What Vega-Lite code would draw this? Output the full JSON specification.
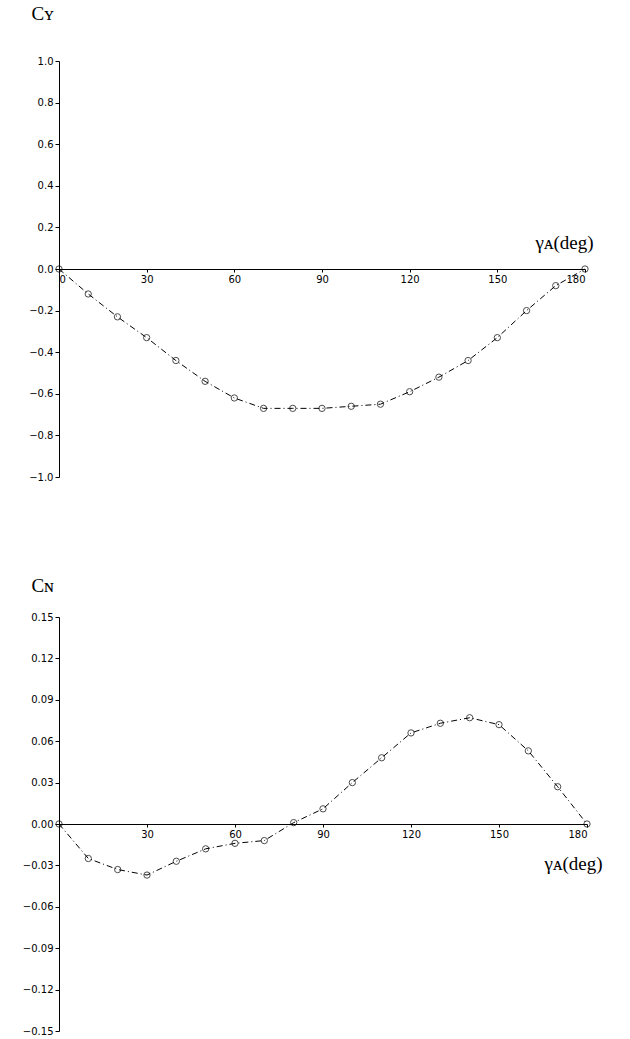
{
  "$schema": "https://vega.github.io/schema/vega-lite/v6.json",
  "padding": {"left": 22, "top": 4, "right": 0, "bottom": 0},
  "autosize": {"type": "pad"},
  "background": "white",
  "config": {
    "view": {"stroke": null},
    "axis": {"grid": false, "domainColor": "black", "tickColor": "black", "labelColor": "black", "labelFont": "DejaVu Sans", "labelFontSize": 10, "titleFont": "Liberation Serif", "titleFontSize": 19, "titleFontWeight": "normal", "titleColor": "black"}
  },
  "spacing": 94,
  "vconcat": [
    {
      "width": 526,
      "height": 416,
      "data": {"values": [
        {"a": 0, "c": 0}, {"a": 10, "c": -0.12}, {"a": 20, "c": -0.23}, {"a": 30, "c": -0.33},
        {"a": 40, "c": -0.44}, {"a": 50, "c": -0.54}, {"a": 60, "c": -0.62}, {"a": 70, "c": -0.67},
        {"a": 80, "c": -0.67}, {"a": 90, "c": -0.67}, {"a": 100, "c": -0.66}, {"a": 110, "c": -0.65},
        {"a": 120, "c": -0.59}, {"a": 130, "c": -0.52}, {"a": 140, "c": -0.44}, {"a": 150, "c": -0.33},
        {"a": 160, "c": -0.20}, {"a": 170, "c": -0.08}, {"a": 180, "c": 0}
      ]},
      "encoding": {
        "x": {"field": "a", "type": "quantitative", "scale": {"domain": [0, 180], "nice": false},
          "axis": {"values": [0, 30, 60, 90, 120, 150, 180], "offset": -208, "title": "γᴀ(deg)", "titleAlign": "left", "titleX": 476, "titleY": -36, "tickSize": 3}},
        "y": {"field": "c", "type": "quantitative", "scale": {"domain": [-1, 1], "nice": false},
          "axis": {"values": [-1, -0.8, -0.6, -0.4, -0.2, 0, 0.2, 0.4, 0.6, 0.8, 1], "format": ".1f", "title": "Cʏ", "titleAngle": 0, "titleX": -28, "titleY": -38, "titleAlign": "left", "tickSize": 4}}
      },
      "layer": [
        {"mark": {"type": "line", "color": "black", "strokeWidth": 1, "strokeDash": [6, 3, 1, 3]}},
        {"mark": {"type": "point", "shape": "circle", "filled": false, "color": "black", "size": 40, "strokeWidth": 1}}
      ]
    },
    {
      "width": 528,
      "height": 414,
      "data": {"values": [
        {"a": 0, "c": 0}, {"a": 10, "c": -0.025}, {"a": 20, "c": -0.033}, {"a": 30, "c": -0.037},
        {"a": 40, "c": -0.027}, {"a": 50, "c": -0.018}, {"a": 60, "c": -0.014}, {"a": 70, "c": -0.012},
        {"a": 80, "c": 0.001}, {"a": 90, "c": 0.011}, {"a": 100, "c": 0.030}, {"a": 110, "c": 0.048},
        {"a": 120, "c": 0.066}, {"a": 130, "c": 0.073}, {"a": 140, "c": 0.077}, {"a": 150, "c": 0.072},
        {"a": 160, "c": 0.053}, {"a": 170, "c": 0.027}, {"a": 180, "c": 0}
      ]},
      "encoding": {
        "x": {"field": "a", "type": "quantitative", "scale": {"domain": [0, 180], "nice": false},
          "axis": {"values": [0, 30, 60, 90, 120, 150, 180], "labelExpr": "datum.value == 0 ? '' : datum.label", "offset": -207, "title": "γᴀ(deg)", "titleAlign": "left", "titleX": 485, "titleY": 30, "tickSize": 3}},
        "y": {"field": "c", "type": "quantitative", "scale": {"domain": [-0.15, 0.15], "nice": false},
          "axis": {"values": [-0.15, -0.12, -0.09, -0.06, -0.03, 0, 0.03, 0.06, 0.09, 0.12, 0.15], "format": ".2f", "title": "Cɴ", "titleAngle": 0, "titleX": -28, "titleY": -22, "titleAlign": "left", "tickSize": 4}}
      },
      "layer": [
        {"mark": {"type": "line", "color": "black", "strokeWidth": 1, "strokeDash": [6, 3, 1, 3]}},
        {"mark": {"type": "point", "shape": "circle", "filled": false, "color": "black", "size": 40, "strokeWidth": 1}}
      ]
    }
  ]
}
